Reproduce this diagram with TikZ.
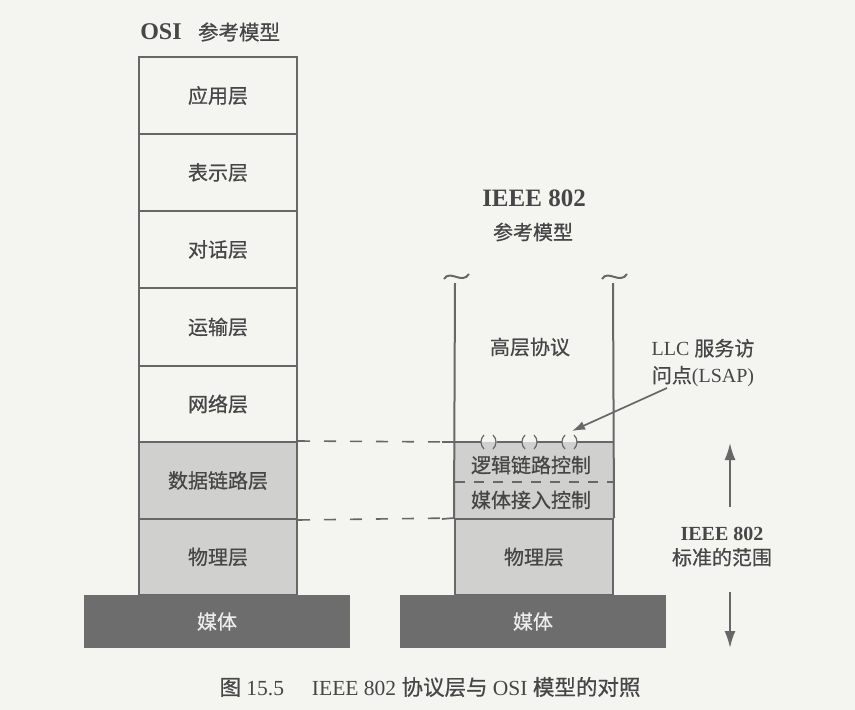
\documentclass[tikz,border=0pt]{standalone}
\usepackage{fontspec}
\setmainfont{Liberation Serif}
\newfontfamily\cjk{Noto Sans CJK SC}[FakeBold=0.6]
\usetikzlibrary{arrows.meta}
\definecolor{bgc}{HTML}{F4F4F1}
\definecolor{linec}{HTML}{676767}
\definecolor{textc}{HTML}{464646}
\definecolor{shadec}{HTML}{D0D0CE}
\definecolor{mediac}{HTML}{6D6D6D}
\definecolor{mediat}{HTML}{ECECEC}
\newcommand\zh[1]{{\cjk #1}}
\begin{document}
\begin{tikzpicture}[x=1pt,y=-1pt,
  ln/.style={draw=linec, line width=2pt},
  thinln/.style={draw=linec, line width=1.7pt},
  osil/.style={draw=linec, line width=2pt, minimum width=158pt, inner sep=0pt,
    text=textc, font=\cjk\fontsize{20}{20}\selectfont},
  lbl/.style={inner sep=0pt, text=textc, font=\cjk\fontsize{20}{20}\selectfont},
  media/.style={fill=mediac, minimum width=266pt, minimum height=53pt, inner sep=0pt,
    text=mediat, font=\cjk\fontsize{20}{20}\selectfont},
  dashln/.style={draw=linec, line width=1.6pt, dash pattern=on 12pt off 14pt},
  bigarrow/.style={ln, -{Latex[length=17pt,width=11pt]}},
  smallarrow/.style={thinln, -{Latex[length=13pt,width=9pt]}},
  tilde/.style={draw=linec, line width=2pt},
  paren/.style={draw=linec, line width=1.2pt}
]
\useasboundingbox (0,0) rectangle (855,710);
\fill[bgc] (0,0) rectangle (855,710);

% ---------- OSI titles
\node[inner sep=0pt, text=textc, font=\bfseries\fontsize{24}{24}\selectfont] (osit) at (161,32) {OSI};
\node[lbl, font=\cjk\fontsize{20.5}{20.5}\selectfont] (osiref) at (239,32) {参考模型};

% ---------- OSI stack
\node[osil, minimum height=77pt] (app) at (218,95.5) {应用层};
\node[osil, minimum height=77pt] (pres) at (218,172.5) {表示层};
\node[osil, minimum height=77pt] (sess) at (218,249.5) {对话层};
\node[osil, minimum height=78pt] (trans) at (218,327) {运输层};
\node[osil, minimum height=76pt] (net) at (218,404) {网络层};
\node[osil, fill=shadec, minimum height=77pt] (dl) at (218,480.5) {数据链路层};
\node[osil, fill=shadec, minimum height=76pt] (phy) at (218,557) {物理层};

% ---------- IEEE titles
\node[inner sep=0pt, text=textc, font=\bfseries\fontsize{25}{25}\selectfont] (ieeet) at (534,198) {IEEE 802};
\node[lbl] (ieeeref) at (533,232) {参考模型};

% ---------- IEEE stack
\fill[shadec] (455,442) rectangle (613,519);
\node[osil, fill=shadec, minimum height=76pt] (iphy) at (534,557) {物理层};
\coordinate (ltop) at (455,283);
\coordinate (rtop) at (613,283);
\coordinate (llcl) at (455,442);
\coordinate (llcr) at (613,442);
\coordinate (macl) at (455,482);
\coordinate (macr) at (613,482);
\draw[ln] (ltop) -- (iphy.north west);
\draw[ln] (rtop) -- (iphy.north east);
\draw[draw=linec, line width=1.6pt, dash pattern=on 10pt off 9pt] (macl) -- (macr);

\node[lbl] (hlp) at (530,347) {高层协议};
\node[lbl] (llc) at (531,465) {逻辑链路控制};
\node[lbl] (mac) at (531,500) {媒体接入控制};

% tildes
\draw[tilde] (444,279) .. controls (450,269) and (462,285) .. (469,274);
\draw[tilde] (602,279) .. controls (608,269) and (620,285) .. (627,274);

% dashed correspondences
\draw[dashln] (dl.north east) -- (llcl);
\draw[dashln] (dl.south east) -- (iphy.north west);

% LSAP
\node[align=center, inner sep=0pt, text=textc, font=\fontsize{20}{27}\selectfont] (lsap) at (703,363)
  {LLC \zh{服务访}\\\zh{问点}(LSAP)};
\coordinate (lsapfrom) at (667,388);
\coordinate (sap) at (572,431);
\draw[smallarrow] (lsapfrom) -- (sap);

% scope
\node[align=center, inner sep=0pt, text=textc, font=\fontsize{20}{24}\selectfont] (scope) at (722,547)
  {\textbf{IEEE 802}\\\zh{标准的范围}};
\coordinate (uptail) at (730,507);
\coordinate (uptip) at (730,443);
\coordinate (dntail) at (730,592);
\coordinate (dntip) at (730,648);
\draw[bigarrow] (uptail) -- (uptip);
\draw[bigarrow] (dntail) -- (dntip);

% media
\node[media] (med1) at (217,621.5) {媒体};
\node[media] (med2) at (533,621.5) {媒体};

% LLC line with service access points
\coordinate (stub) at (442,442);
\draw[thinln] (stub) -- (481,442);
\draw[thinln] (497,442) -- (522,442);
\draw[thinln] (537,442) -- (562,442);
\draw[thinln] (577,442) -- (llcr);
\foreach \c in {488,529,569}{
  \draw[paren] (\c-4,435) .. controls (\c-8,439) and (\c-8,445) .. (\c-4,449);
  \draw[paren] (\c+5,435) .. controls (\c+9,439) and (\c+9,445) .. (\c+5,449);
}
\coordinate (stub2) at (442,519);
\draw[thinln] (stub2) -- (iphy.north west);

% caption
\node[inner sep=0pt, text=textc, font=\fontsize{21.5}{21.5}\selectfont] (cap) at (430,687)
  {\zh{图} 15.5\hspace{1.3em}IEEE 802 \zh{协议层与} OSI \zh{模型的对照}};
\end{tikzpicture}
\end{document}
